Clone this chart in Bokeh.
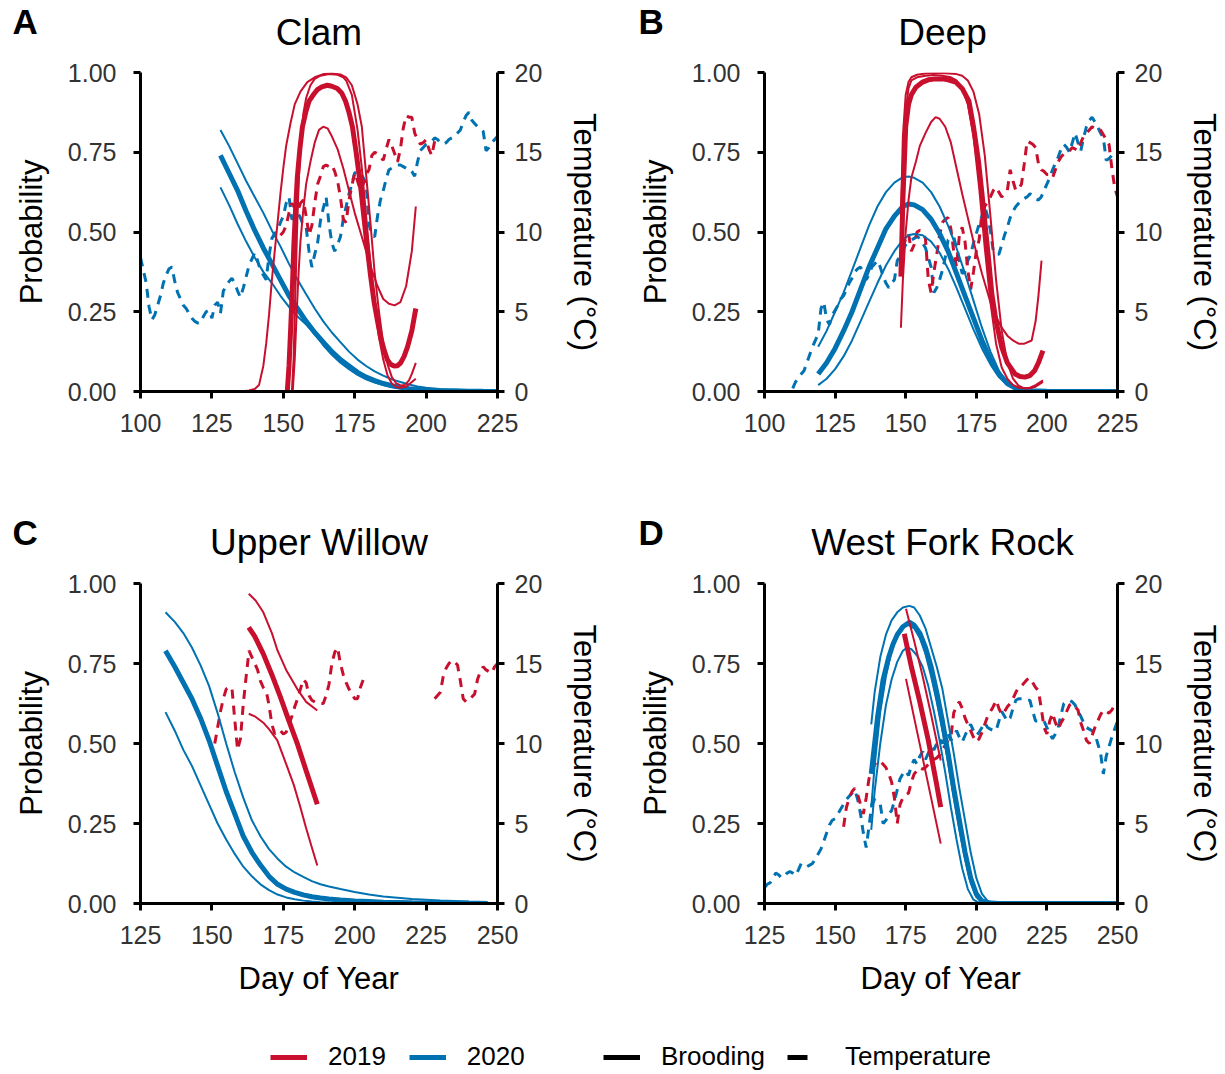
from bokeh.plotting import figure
from bokeh.models import Range1d, LinearAxis, FixedTicker, NumeralTickFormatter, Label, Legend, LegendItem
from bokeh.layouts import column, row
from bokeh.embed import file_html
from bokeh.resources import INLINE

RED = "#C8102E"
BLUE = "#0072B2"
FONT = "Liberation Sans"

# ---------------- axis ticks / texts ----------------
prob_ticks = [0, 0.25, 0.5, 0.75, 1.0]
temp_ticks = [0, 5, 10, 15, 20]
top_x_ticks = [100, 125, 150, 175, 200, 225]
bottom_x_ticks = [125, 150, 175, 200, 225, 250]
panel_letters = ["A", "B", "C", "D"]
panel_names = ["Clam", "Deep", "Upper Willow", "West Fork Rock"]
legend_years = ["2019", "2020"]
legend_types = ["Brooding", "Temperature"]

# ---------------- A: Clam ----------------
clam_2020_temp_start = 100
clam_2020_temp = [8.4, 7.6, 6.8, 5.3, 4.5, 4.8, 5.4, 6.0, 6.8, 7.3,
                  7.7, 7.8, 6.9, 6.2, 5.8, 5.4, 5.2, 4.9, 4.6, 4.4,
                  4.3, 4.3, 4.7, 5.0, 5.1, 4.6, 5.4, 5.6, 4.9, 6.3,
                  6.6, 6.9, 7.1, 6.8, 6.3, 5.9, 6.5, 7.2, 7.9, 8.3,
                  8.7, 8.2, 7.6, 7.3, 7.0, 8.5, 9.6, 9.9, 10.1, 10.6,
                  11.0, 11.8, 12.2, 10.8, 10.9, 11.2, 10.9, 10.4, 10.3, 8.8,
                  7.8, 8.6, 9.3, 10.7, 11.5, 12.2, 10.5, 9.3, 8.8, 9.2,
                  9.7, 10.8, 11.6, 12.4, 13.0, 13.7, 13.8, 13.7, 13.4, 13.0,
                  10.5, 9.8, 9.7, 11.0, 12.0, 12.6, 13.3, 13.9, 14.0, 14.1,
                  14.2, 14.2, 14.1, 14.0, 14.0, 13.8, 13.5, 14.4, 15.1, 15.3,
                  15.5, 15.6, 15.7, 15.9, 15.8, 15.6, 15.5, 15.6, 15.8, 15.9,
                  16.0, 16.2, 16.4, 16.9, 17.3, 17.5, 17.0, 16.8, 16.6, 16.5,
                  16.3, 15.1, 15.3, 15.6, 15.8, 16.0]
clam_2019_temp_start = 149
clam_2019_temp = [9.8, 10.0, 10.4, 11.2, 11.8, 11.5, 11.3, 11.8, 12.0, 11.0,
                  9.8, 10.4, 11.8, 13.0, 13.5, 14.1, 14.2, 14.1, 14.2, 13.8,
                  13.2, 12.2, 10.8, 10.6, 12.0, 12.9, 13.7, 13.2, 12.6, 13.0,
                  13.6, 13.9, 14.8, 15.0, 14.9, 14.7, 14.5, 15.2, 15.8, 15.4,
                  14.9, 14.4, 15.2, 16.5, 17.3, 17.2, 17.2, 16.2, 15.8, 15.5,
                  15.6, 15.8, 15.2, 14.8, 15.7, 16.0]

clam_2020_day = [128, 131, 134, 137, 140, 143, 146, 149, 152, 155, 158, 161, 164, 167, 170,
                 173, 176, 179, 182, 185, 188, 191, 194, 197, 200, 205, 210, 215, 220, 225]
clam_2020_mean = [.74, .685, .63, .565, .505, .45, .40, .35, .30, .26, .22, .185, .155, .125, .10,
                  .08, .06, .045, .034, .025, .018, .013, .009, .007, .005, .003, .002, .001, .0005, .0003]
clam_2020_upper = [.82, .77, .715, .66, .61, .56, .505, .455, .40, .35, .305, .26, .22, .185, .155,
                   .125, .10, .08, .063, .05, .038, .03, .022, .016, .012, .007, .004, .002, .001, .0006]
clam_2020_lower = [.64, .585, .525, .47, .42, .375, .34, .30, .265, .235, .21, .18, .145, .115, .09,
                   .07, .052, .038, .028, .02, .014, .01, .007, .005, .0035, .002, .001, .0006, .0003, .0002]

clam_2019_mean_day = [151.4, 152, 152.6, 153.2, 153.7, 154.3, 154.9, 155.8, 156.7, 158,
                      159, 160.5, 161.9, 163.5, 165.4, 167, 168.9, 170.5, 171.8, 173,
                      174.2, 175.5, 177.1, 178.3, 179.4, 180.6, 181.8, 183, 184.1, 185.3,
                      186.4, 187.6, 188.8, 190, 191.1, 192.3, 193.5, 195, 196.4]
clam_2019_mean = [0, .08, .2, .33, .46, .57, .67, .76, .83, .88,
                  .91, .93, .946, .955, .96, .957, .95, .935, .91, .875,
                  .83, .75, .64, .54, .45, .36, .28, .22, .17, .13,
                  .10, .085, .08, .081, .09, .11, .14, .19, .26]
clam_2019_wide_day = [128, 132, 136, 138, 140, 141.5, 143, 144, 145, 146,
                      147, 148, 149, 150, 151, 152.5, 154, 156, 158.4, 161,
                      164, 167, 170, 172, 174, 176, 177.5, 179, 180.5, 182,
                      183.5, 185, 186.5, 188, 189.5, 191, 192.5, 194, 195, 196.4]
clam_2019_wide = [0, 0, .001, .003, .008, .02, .08, .15, .24, .35,
                  .44, .53, .62, .70, .77, .84, .90, .94, .97, .985,
                  .995, .997, .994, .985, .96, .90, .83, .68, .53, .37,
                  .25, .15, .085, .045, .026, .019, .02, .035, .055, .09]
clam_2019_high_day = [153, 153.6, 154.2, 154.8, 155.4, 156, 157, 158, 159.5, 161,
                      163, 166, 169, 171, 172, 174, 176, 177.5, 179, 180.5,
                      182, 183.5, 185, 186.5, 188, 189.5, 191, 193, 196.4]
clam_2019_high = [0, .1, .3, .5, .66, .77, .87, .92, .96, .98,
                  .99, .995, .993, .985, .975, .93, .82, .70, .55, .40,
                  .27, .17, .10, .05, .025, .014, .012, .015, .04]
clam_2019_low_day = [153.3, 154, 154.7, 155.4, 156, 157, 158, 159.5, 161, 162.5,
                     164, 165.5, 167, 169, 171, 173, 175, 177, 179, 181,
                     183, 185, 187, 189, 191, 193, 195, 196.4]
clam_2019_low = [0, .1, .25, .38, .47, .57, .65, .72, .78, .82,
                 .83, .825, .8, .76, .7, .63, .56, .5, .44, .38,
                 .33, .29, .275, .27, .28, .33, .44, .58]

# ---------------- B: Deep ----------------
deep_2020_temp_start = 110
deep_2020_temp = [0.2, 0.6, 0.9, 1.1, 1.3, 1.8, 2.3, 2.8, 3.2, 3.6,
                  5.2, 5.6, 4.5, 4.2, 4.8, 5.1, 5.4, 5.8, 6.0, 6.4,
                  6.8, 7.1, 7.5, 7.7, 7.8, 7.4, 7.0, 7.3, 7.8, 8.0,
                  8.2, 7.8, 7.2, 6.8, 6.5, 6.8, 7.0, 8.2, 8.5, 8.9,
                  9.2, 9.4, 9.5, 9.6, 9.7, 9.6, 9.3, 9.0, 8.4, 7.8,
                  6.2, 6.5, 7.0, 7.6, 8.4, 9.5, 9.6, 9.7, 9.0, 8.2,
                  7.4, 7.5, 8.2, 8.6, 9.3, 9.9, 10.5, 11.0, 11.6, 11.0,
                  10.1, 8.8, 8.6, 8.6, 9.2, 9.8, 10.3, 10.9, 11.3, 11.6,
                  11.8, 12.0, 12.1, 12.2, 12.4, 12.3, 12.1, 12.0, 12.2, 12.6,
                  13.0, 13.4, 13.9, 14.3, 14.7, 15.2, 15.5, 15.3, 15.0, 15.6,
                  16.2, 15.6, 15.1, 15.9, 16.6, 17.0, 17.2, 16.9, 16.6, 16.2,
                  15.9, 14.5, 14.6, 14.8, 14.9, 15.0]
deep_2019_temp_start = 149
deep_2019_temp = [9.0, 9.6, 9.9, 8.8, 9.2, 10.0, 10.1, 9.9, 9.6, 7.0,
                  6.2, 7.5, 8.6, 9.8, 10.6, 10.8, 10.9, 10.2, 8.8, 7.8,
                  9.8, 10.3, 9.4, 7.6, 6.4, 7.5, 8.8, 9.5, 11.2, 11.6,
                  11.9, 12.2, 12.6, 12.8, 12.5, 12.2, 12.4, 12.6, 13.9, 13.2,
                  12.6, 12.7, 13.0, 14.3, 15.7, 15.6, 15.5, 15.3, 14.3, 13.9,
                  13.8, 13.6, 13.6, 13.4, 13.9, 14.4, 14.7, 14.9, 15.0, 15.1,
                  15.3, 15.2, 15.1, 15.6, 16.0, 16.2, 16.4, 16.6, 16.5, 16.4,
                  16.4, 16.1, 15.8, 15.5, 14.0, 12.8, 12.2]

deep_2020_day = [119, 122, 125, 128, 131, 134, 137, 140, 143, 146,
                 149, 151, 153, 156, 159, 162, 165, 168, 171, 174,
                 177, 180, 183, 186, 189, 192, 195, 200, 210, 225]
deep_2020_mean = [.055, .09, .135, .19, .25, .32, .39, .45, .51, .55,
                  .58, .588, .585, .57, .54, .495, .44, .37, .30, .23,
                  .16, .10, .055, .025, .01, .004, .002, .001, 0, 0]
deep_2020_upper = [.14, .19, .25, .31, .38, .45, .52, .58, .625, .655,
                   .672, .674, .67, .655, .625, .58, .52, .45, .37, .285,
                   .2, .125, .065, .028, .01, .003, .001, 0, 0, 0]
deep_2020_lower = [.02, .04, .07, .11, .16, .22, .28, .34, .395, .44,
                   .475, .49, .494, .49, .47, .435, .385, .325, .26, .195,
                   .135, .085, .045, .02, .008, .003, .001, 0, 0, 0]

deep_2019_mean_day = [148.3, 149, 150, 151, 152, 153.6, 156, 158, 160.6, 163,
                      165, 167.7, 170, 172.4, 174, 175.8, 177, 178.2, 179.4, 180.5,
                      182, 184, 186, 188.7, 190.5, 192.2, 194, 195.7, 197, 198.6]
deep_2019_mean = [.36, .6, .83, .9, .93, .954, .97, .977, .98, .98,
                  .977, .97, .95, .91, .83, .72, .62, .515, .41, .306,
                  .22, .139, .09, .055, .047, .045, .05, .066, .09, .128]
deep_2019_wide_day = [148.3, 149, 150, 151, 152, 154, 157, 160, 164, 168,
                      170, 172, 174, 176, 178, 180, 182, 184, 186, 188,
                      190, 192, 194, 196, 198.6]
deep_2019_wide = [.55, .8, .93, .97, .985, .993, .997, .998, .998, .995,
                  .99, .975, .94, .87, .74, .55, .35, .19, .09, .04,
                  .018, .01, .01, .015, .03]
deep_2019_high_day = [148.3, 149, 150, 151, 152, 154, 157, 160, 163, 166,
                      168, 170, 172, 174, 176, 178, 180, 182, 184, 186,
                      188, 190, 192, 194, 196, 198.6]
deep_2019_high = [.45, .7, .88, .95, .975, .985, .99, .992, .99, .985,
                  .975, .95, .9, .8, .64, .45, .28, .15, .075, .04,
                  .02, .012, .01, .012, .02, .035]
deep_2019_low_day = [148.3, 149, 150, 151, 152, 153.6, 155, 157, 159, 160.6,
                     162, 164, 166, 168, 170, 172, 174, 177, 180, 182,
                     184, 186, 188, 190, 192, 194.6, 196, 197, 198.1]
deep_2019_low = [.2, .35, .5, .6, .67, .72, .77, .81, .845, .86,
                 .855, .83, .78, .7, .62, .545, .47, .37, .28, .235,
                 .2, .175, .16, .15, .15, .16, .22, .3, .41]

# ---------------- C: Upper Willow ----------------
willow_2019_temp_start_a = 151
willow_2019_temp_a = [10.0, 11.0, 12.0, 12.8, 13.4, 13.5, 13.5, 11.5, 9.6, 10.3,
                      12.5, 14.2, 15.8, 15.4, 15.0, 14.6, 13.9, 13.5, 13.3, 12.4,
                      11.2, 10.6, 10.8, 10.8, 10.6, 10.7, 11.2, 11.7, 12.3, 12.8,
                      13.4, 14.0, 13.8, 13.0, 12.7, 12.6, 12.5, 12.5, 12.5, 13.0,
                      13.7, 15.0, 15.7, 16.0, 15.0, 14.3, 13.8, 13.4, 13.1, 12.8,
                      12.8, 13.5, 14.0]
willow_2019_temp_start_b = 228
willow_2019_temp_b = [12.8, 13.0, 13.2, 14.2, 14.7, 15.0, 15.2, 15.1, 14.9, 13.9,
                      12.8, 12.6, 12.7, 12.9, 13.1, 14.0, 14.5, 14.8, 14.6, 14.5,
                      14.4, 14.8, 15.0]

willow_2020_day = [133.75, 137, 140, 143, 146, 149, 152, 155, 158, 161,
                   164, 167, 170, 173, 176, 179, 182, 185, 188, 191,
                   195, 200, 205, 210, 220, 230, 240, 246.5]
willow_2020_mean = [.79, .74, .69, .64, .58, .51, .43, .35, .28, .21,
                    .16, .12, .085, .06, .045, .035, .027, .021, .017, .014,
                    .011, .008, .006, .004, .002, .001, .0005, .0003]
willow_2020_upper = [.91, .88, .845, .8, .745, .68, .595, .5, .41, .33,
                     .26, .21, .17, .14, .115, .097, .083, .07, .06, .053,
                     .045, .036, .028, .022, .014, .009, .006, .005]
willow_2020_lower = [.598, .54, .48, .43, .37, .31, .25, .2, .155, .115,
                     .085, .06, .042, .028, .019, .013, .009, .006, .004, .003,
                     .002, .001, .0007, .0005, .0002, .0001, 0, 0]

willow_2019_mean_day = [162.9, 165, 168, 171, 174, 177, 180, 183, 186.9]
willow_2019_mean = [.863, .835, .78, .715, .645, .57, .497, .415, .31]
willow_2019_upper_day = [162.9, 165.3, 168, 171, 173, 176, 179.9, 183, 186.9]
willow_2019_upper = [.968, .947, .91, .845, .79, .73, .67, .63, .603]
willow_2019_lower_day = [162.9, 165, 168, 170, 172.9, 175, 176.4, 178.7, 181, 183, 185, 186.9]
willow_2019_lower = [.593, .585, .565, .545, .51, .46, .426, .37, .3, .235, .175, .119]

# ---------------- D: West Fork Rock ----------------
wfr_2020_temp_start = 125
wfr_2020_temp = [1.0, 1.2, 1.3, 1.6, 1.9, 1.8, 1.6, 1.7, 1.9, 2.0,
                 1.9, 1.75, 2.1, 2.5, 2.4, 2.3, 2.4, 2.5, 2.8, 3.1,
                 3.4, 3.9, 4.4, 4.9, 5.2, 5.3, 5.6, 5.9, 6.2, 6.5,
                 6.7, 6.9, 7.1, 6.5, 5.6, 4.4, 3.5, 4.8, 6.2, 6.5,
                 6.3, 6.2, 5.0, 5.2, 5.6, 5.8, 6.4, 7.1, 7.8, 8.1,
                 8.3, 8.0, 8.6, 9.0, 8.7, 9.2, 9.5, 9.0, 9.4, 9.8,
                 9.6, 10.0, 10.3, 10.0, 10.4, 10.6, 10.2, 10.5, 10.8, 10.4,
                 10.1, 10.5, 10.9, 11.2, 10.8, 10.5, 10.7, 11.0, 11.3, 11.0,
                 10.9, 10.8, 10.8, 11.4, 12.0, 11.7, 11.4, 11.6, 12.2, 12.7,
                 12.8, 12.8, 12.8, 12.7, 12.7, 12.0, 11.4, 11.4, 11.4, 11.4,
                 11.0, 10.6, 10.3, 10.6, 11.0, 11.8, 12.5, 12.6, 12.7, 12.6,
                 12.4, 12.0, 11.7, 11.3, 11.0, 10.9, 10.8, 10.6, 10.0, 9.4,
                 8.1, 9.2, 9.8, 10.4, 10.9, 11.4]
wfr_2019_temp_start = 153
wfr_2019_temp = [4.8, 6.0, 6.6, 7.0, 7.2, 6.8, 6.2, 5.6, 6.6, 7.8,
                 8.3, 8.7, 8.9, 8.9, 8.7, 8.5, 8.1, 7.6, 6.6, 5.0,
                 6.2, 6.6, 6.8, 6.9, 7.6, 8.1, 8.3, 8.5, 8.4, 8.5,
                 8.7, 8.8, 9.0, 9.1, 9.3, 9.6, 9.9, 10.2, 10.4, 11.9,
                 12.4, 12.6, 12.2, 11.6, 11.2, 10.8, 10.4, 10.1, 10.3, 10.7,
                 11.2, 11.7, 12.0, 12.3, 12.7, 12.2, 11.8, 12.0, 12.3, 12.5,
                 12.8, 13.2, 13.5, 13.6, 13.8, 14.0, 14.1, 13.8, 13.5, 13.3,
                 12.2, 11.0, 10.6, 11.4, 11.9, 11.3, 10.9, 11.3, 11.6, 12.0,
                 12.4, 12.5, 12.3, 12.1, 11.3, 10.8, 10.2, 10.0, 10.5, 11.0,
                 11.4, 11.8, 12.1, 12.0, 11.9, 12.1, 12.4, 12.6]

wfr_2020_wide_day = [162.8, 164, 166, 168, 170, 172, 174, 176.3, 178, 180,
                     182, 184, 186, 188, 190, 192, 194, 196, 198, 200,
                     202, 204, 206, 210, 220, 250]
wfr_2020_wide = [.56, .66, .77, .84, .885, .91, .925, .93, .925, .9,
                 .86, .8, .74, .67, .57, .47, .36, .26, .16, .08,
                 .03, .008, .002, 0, 0, 0]
wfr_2020_mean_day = [162.8, 164, 165, 167, 169, 170.5, 172, 174, 176.3, 178,
                     180, 182, 184, 186, 188, 190, 192, 194, 196, 198,
                     200, 202, 204, 208, 220, 250]
wfr_2020_mean = [.405, .5, .58, .7, .77, .81, .84, .865, .879, .87,
                 .845, .8, .74, .66, .57, .47, .36, .26, .16, .08,
                 .03, .008, .002, 0, 0, 0]
wfr_2020_high_day = [162.8, 164, 166, 168, 170, 172, 174, 176, 178, 180,
                     182, 184, 186, 188, 190, 192, 194, 196, 198, 200,
                     202, 205, 220, 250]
wfr_2020_high = [.3, .43, .6, .71, .79, .84, .865, .87, .86, .83,
                 .78, .71, .63, .54, .44, .33, .23, .14, .065, .02,
                 .005, 0, 0, 0]
wfr_2020_low_day = [162.8, 164, 166, 168, 170, 172, 174, 175.5, 177, 179,
                    181, 183, 185, 187, 189, 191, 193, 195, 197, 199,
                    201, 205, 220, 250]
wfr_2020_low = [.23, .35, .5, .62, .7, .755, .79, .8, .795, .775,
                .74, .68, .6, .51, .41, .3, .2, .11, .045, .012,
                .002, 0, 0, 0]

wfr_2019_mean_day = [174.5, 177, 180, 183, 186, 187.4]
wfr_2019_mean = [.843, .74, .63, .51, .37, .301]
wfr_2019_upper_day = [175.1, 178, 181, 184, 187.4]
wfr_2019_upper = [.921, .82, .71, .59, .447]
wfr_2019_lower_day = [175.1, 178, 181, 184, 187.4]
wfr_2019_lower = [.702, .58, .455, .33, .187]


def days_from(start, vals):
    return list(range(start, start + len(vals)))


def style_axis(ax, tick_standoff, label_standoff):
    ax.axis_line_width = 3
    ax.axis_line_color = "black"
    ax.major_tick_line_width = 3
    ax.major_tick_line_color = "black"
    ax.major_tick_out = 7
    ax.major_tick_in = 0
    ax.minor_tick_line_color = None
    ax.major_label_text_font = FONT
    ax.major_label_text_font_size = "25px"
    ax.major_label_text_color = "#333333"
    ax.major_label_standoff = tick_standoff
    ax.axis_label_text_font = FONT
    ax.axis_label_text_font_size = "31px"
    ax.axis_label_text_font_style = "normal"
    ax.axis_label_text_color = "black"
    ax.axis_label_standoff = label_standoff


def make_panel(xr, xticks, width, height, bl, br, bt, bb, xlabel,
               temps, thin_blue, thick_blue, thin_red, thick_red):
    p = figure(width=width, height=height, x_range=Range1d(*xr), y_range=Range1d(0, 1),
               output_backend="svg", toolbar_location=None,
               min_border_left=bl, min_border_right=br, min_border_top=bt, min_border_bottom=bb)
    p.extra_y_ranges = {"temp": Range1d(0, 20)}
    p.grid.visible = False
    p.outline_line_color = None
    p.title.text = ""

    xa = p.xaxis[0]
    xa.ticker = FixedTicker(ticks=xticks)
    style_axis(xa, 15, 14)
    if xlabel:
        xa.axis_label = xlabel

    ya = p.yaxis[0]
    ya.ticker = FixedTicker(ticks=prob_ticks)
    ya.formatter = NumeralTickFormatter(format="0.00")
    ya.axis_label = "Probability"
    style_axis(ya, 17, 16)

    ra = LinearAxis(y_range_name="temp", axis_label="Temperature (°C)")
    ra.ticker = FixedTicker(ticks=temp_ticks)
    style_axis(ra, 10, 22)
    p.add_layout(ra, "right")

    for color, d, t in temps:
        p.line(d, t, y_range_name="temp", line_color=color, line_width=3, line_dash="9 7")
    for d, v in thin_blue:
        p.line(d, v, line_color=BLUE, line_width=2)
    p.line(thick_blue[0], thick_blue[1], line_color=BLUE, line_width=5)
    for d, v in thin_red:
        p.line(d, v, line_color=RED, line_width=2)
    p.line(thick_red[0], thick_red[1], line_color=RED, line_width=5)
    return p


def make_header(height, letters, names, letter_y, name_y):
    h = figure(width=W_L + W_R, height=height, x_range=Range1d(0, 1), y_range=Range1d(0, 1),
               output_backend="svg", toolbar_location=None, x_axis_location=None,
               y_axis_location=None, min_border=0)
    h.grid.visible = False
    h.outline_line_color = None
    for lx, letter in zip(LETTER_X, letters):
        h.add_layout(Label(x=lx, y=letter_y, x_units="screen", y_units="screen", text=letter,
                           text_font=FONT, text_font_size="35px", text_font_style="bold",
                           text_color="black", text_align="left", text_baseline="middle"))
    for cx, name in zip(NAME_X, names):
        h.add_layout(Label(x=cx, y=name_y, x_units="screen", y_units="screen", text=name,
                           text_font=FONT, text_font_size="37px", text_font_style="normal",
                           text_color="black", text_align="center", text_baseline="middle"))
    return h


W_L, W_R = 632, 593
LETTER_X = [12, 638]
NAME_X = [318.5, 942]
HDR1, ROW1, HDR2, ROW2, LEG = 56, 444, 70, 440, 62

header1 = make_header(HDR1, panel_letters[:2], panel_names[:2], 35, 24)
header2 = make_header(HDR2, panel_letters[2:], panel_names[2:], 38, 28)

pA = make_panel((100, 225), top_x_ticks, W_L, ROW1, 140, 135, 16, 109, None,
                [(BLUE, days_from(clam_2020_temp_start, clam_2020_temp), clam_2020_temp),
                 (RED, days_from(clam_2019_temp_start, clam_2019_temp), clam_2019_temp)],
                [(clam_2020_day, clam_2020_upper), (clam_2020_day, clam_2020_lower)],
                (clam_2020_day, clam_2020_mean),
                [(clam_2019_wide_day, clam_2019_wide), (clam_2019_high_day, clam_2019_high),
                 (clam_2019_low_day, clam_2019_low)],
                (clam_2019_mean_day, clam_2019_mean))

pB = make_panel((100, 225), top_x_ticks, W_R, ROW1, 132, 105, 16, 109, None,
                [(BLUE, days_from(deep_2020_temp_start, deep_2020_temp), deep_2020_temp),
                 (RED, days_from(deep_2019_temp_start, deep_2019_temp), deep_2019_temp)],
                [(deep_2020_day, deep_2020_upper), (deep_2020_day, deep_2020_lower)],
                (deep_2020_day, deep_2020_mean),
                [(deep_2019_wide_day, deep_2019_wide), (deep_2019_high_day, deep_2019_high),
                 (deep_2019_low_day, deep_2019_low)],
                (deep_2019_mean_day, deep_2019_mean))

pC = make_panel((125, 250), bottom_x_ticks, W_L, ROW2, 140, 135, 13, 107, "Day of Year",
                [(RED, days_from(willow_2019_temp_start_a, willow_2019_temp_a), willow_2019_temp_a),
                 (RED, days_from(willow_2019_temp_start_b, willow_2019_temp_b), willow_2019_temp_b)],
                [(willow_2020_day, willow_2020_upper), (willow_2020_day, willow_2020_lower)],
                (willow_2020_day, willow_2020_mean),
                [(willow_2019_upper_day, willow_2019_upper), (willow_2019_lower_day, willow_2019_lower)],
                (willow_2019_mean_day, willow_2019_mean))

pD = make_panel((125, 250), bottom_x_ticks, W_R, ROW2, 132, 105, 13, 107, "Day of Year",
                [(BLUE, days_from(wfr_2020_temp_start, wfr_2020_temp), wfr_2020_temp),
                 (RED, days_from(wfr_2019_temp_start, wfr_2019_temp), wfr_2019_temp)],
                [(wfr_2020_wide_day, wfr_2020_wide), (wfr_2020_high_day, wfr_2020_high),
                 (wfr_2020_low_day, wfr_2020_low)],
                (wfr_2020_mean_day, wfr_2020_mean),
                [(wfr_2019_upper_day, wfr_2019_upper), (wfr_2019_lower_day, wfr_2019_lower)],
                (wfr_2019_mean_day, wfr_2019_mean))

# ---------------- legend strip ----------------
leg = figure(width=W_L + W_R, height=LEG, x_range=Range1d(0, 1), y_range=Range1d(0, 1),
             output_backend="svg", toolbar_location=None, x_axis_location=None, y_axis_location=None,
             min_border=0)
leg.grid.visible = False
leg.outline_line_color = None
r19 = leg.line([5, 6], [5, 6], line_color=RED, line_width=5)
r20 = leg.line([5, 6], [5, 6], line_color=BLUE, line_width=5)
rb = leg.line([5, 6], [5, 6], line_color="black", line_width=5)
rt = leg.line([5, 6], [5, 6], line_color="black", line_width=5, line_dash="20 17")

common = dict(orientation="horizontal", glyph_width=37, glyph_height=30, padding=0, margin=0,
              border_line_color=None, background_fill_alpha=0, label_text_font=FONT,
              label_text_font_size="26px", label_text_color="black")
lg1 = Legend(items=[LegendItem(label=legend_years[0], renderers=[r19]),
                    LegendItem(label=legend_years[1], renderers=[r20])],
             location=(270, 0), label_standoff=21, spacing=23, **common)
lg2 = Legend(items=[LegendItem(label=legend_types[0], renderers=[rb]),
                    LegendItem(label=legend_types[1], renderers=[rt])],
             location=(603, 0), label_standoff=21, spacing=22, **common)
leg.add_layout(lg1, "center")
leg.add_layout(lg2, "center")

layout = column(header1, row(pA, pB), header2, row(pC, pD), leg)
open("out.html", "w").write(file_html(layout, INLINE))
